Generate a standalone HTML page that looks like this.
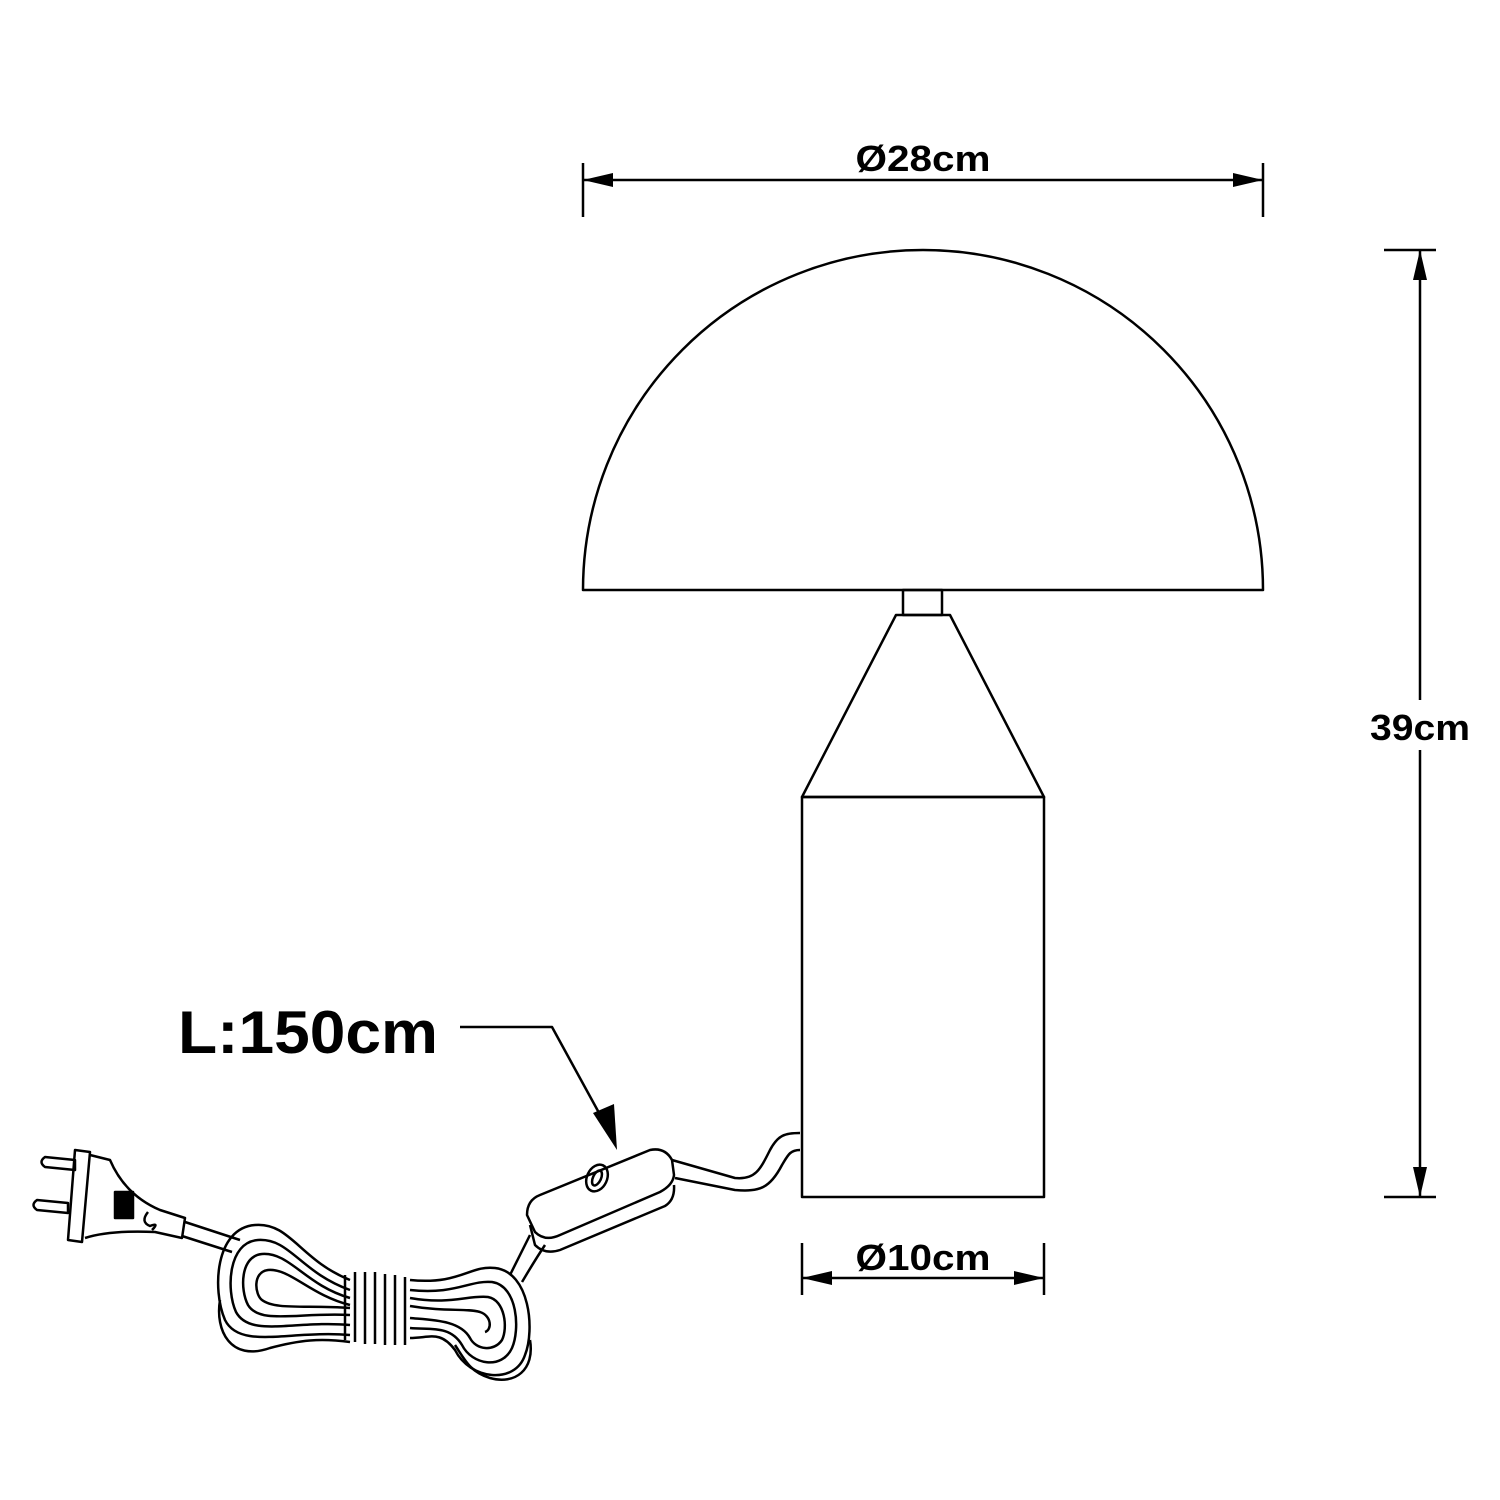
<!DOCTYPE html>
<html><head><style>
html,body{margin:0;padding:0;background:#fff;}
svg{display:block}
text{font-family:"Liberation Sans",sans-serif;font-weight:bold;fill:#000}
</style></head><body>
<svg width="1500" height="1500" viewBox="0 0 1500 1500" xmlns="http://www.w3.org/2000/svg">
<g stroke="#000" stroke-width="2.5" fill="none" stroke-linejoin="round">
<!-- top dimension -->
<line x1="583" y1="163" x2="583" y2="217"/>
<line x1="1263" y1="163" x2="1263" y2="217"/>
<line x1="583" y1="180" x2="1263" y2="180"/>
<!-- dome -->
<path d="M583,590 A340,340 0 0 1 1263,590 Z"/>
<rect x="903" y="590" width="39" height="25"/>
<path d="M896,615 L950,615 L1044,797 L802,797 Z"/>
<rect x="802" y="797" width="242" height="400"/>
<!-- right dim -->
<line x1="1384" y1="250" x2="1436" y2="250"/>
<line x1="1384" y1="1197" x2="1436" y2="1197"/>
<line x1="1420" y1="250" x2="1420" y2="1197"/>
<!-- bottom dim -->
<line x1="802" y1="1243" x2="802" y2="1295"/>
<line x1="1044" y1="1243" x2="1044" y2="1295"/>
<line x1="802" y1="1278" x2="1044" y2="1278"/>
<!-- leader -->
<polyline points="460,1027 552,1027 604,1122"/>
<!-- cord from base to switch -->
<path d="M800,1133 C785,1133 778,1135 770,1150 C760,1170 755,1180 735,1178 L672,1160"/>
<path d="M800,1150 C790,1150 788,1155 782,1165 C770,1188 760,1192 735,1190 L675,1178"/>
<!-- switch -->
<path d="M540,1195 L650,1150 Q665,1147 672,1160 L674,1175 Q673,1185 660,1192 L560,1235 Q545,1242 535,1232 L527,1215 Q527,1200 540,1195 Z"/>
<path d="M530,1225 L535,1245 Q545,1255 560,1250 L665,1206 Q675,1200 674,1185"/>
<ellipse cx="597" cy="1178" rx="10" ry="14" transform="rotate(25 597 1178)"/>
<ellipse cx="597" cy="1178" rx="4" ry="8" transform="rotate(25 597 1178)"/>
<!-- cord to coil -->
<path d="M530,1235 C520,1255 515,1265 510,1275"/>
<path d="M545,1245 C535,1260 528,1272 522,1282"/>
<!-- plug -->
<path d="M45,1157 L75,1160 L75,1170 L45,1167 Q38,1162 45,1157 Z"/>
<path d="M37,1200 L68,1203 L68,1213 L37,1210 Q30,1205 37,1200 Z"/>
<path d="M75,1150 L90,1152 L82,1242 L68,1240 Z"/>
<path d="M90,1155 L110,1160 Q125,1195 160,1210 L185,1218 L182,1238 L155,1232 Q110,1230 85,1238"/>
<rect x="115" y="1192" width="18" height="26" fill="#000"/>
<path d="M148,1212 Q140,1222 150,1226 Q160,1222 152,1230"/>
<path d="M185,1222 L240,1240 M182,1236 L232,1252"/>
<!-- coil -->
<path d="M350,1280 C300,1260 290,1222 255,1225 C215,1228 212,1290 225,1320 C240,1350 290,1330 350,1335"/>
<path d="M350,1290 C300,1272 290,1238 258,1240 C228,1242 226,1290 236,1312 C250,1338 295,1320 350,1325"/>
<path d="M350,1298 C305,1285 290,1252 262,1254 C240,1256 240,1290 248,1305 C260,1325 300,1312 350,1315"/>
<path d="M350,1305 C310,1295 290,1268 268,1270 C252,1272 255,1295 262,1300 C275,1310 305,1305 350,1308"/>
<path d="M220,1300 C215,1330 230,1362 270,1348 C300,1340 320,1338 350,1342"/>
<path d="M410,1280 C460,1285 470,1265 495,1268 C530,1272 535,1330 525,1355 C515,1385 470,1380 455,1350 C440,1330 430,1338 410,1338"/>
<path d="M410,1290 C455,1295 470,1280 492,1282 C518,1286 520,1330 512,1348 C502,1370 472,1365 462,1345 C450,1325 430,1330 410,1328"/>
<path d="M410,1298 C450,1305 468,1295 488,1297 C505,1300 508,1328 502,1340 C494,1352 476,1350 470,1338 C460,1320 432,1320 410,1318"/>
<path d="M410,1306 C445,1312 465,1308 480,1312 C492,1316 492,1330 485,1332"/>
<path d="M530,1340 C535,1370 515,1385 490,1378 C470,1372 465,1360 455,1345"/>
<path d="M345,1275 L345,1340 M355,1272 L355,1342 M365,1272 L365,1344 M375,1272 L375,1344 M385,1274 L385,1345 M395,1275 L395,1345 M405,1277 L405,1345"/>
</g>
<!-- arrowheads -->
<g fill="#000">
<polygon points="583,180 613,173 613,187"/>
<polygon points="1263,180 1233,173 1233,187"/>
<polygon points="1420,250 1413,280 1427,280"/>
<polygon points="1420,1197 1413,1167 1427,1167"/>
<polygon points="802,1278 832,1271 832,1285"/>
<polygon points="1044,1278 1014,1271 1014,1285"/>
<polygon points="617,1150 593,1113 614,1104"/>
</g>
<rect x="1370" y="700" width="100" height="50" fill="#fff"/>
<text x="923" y="171" font-size="36" text-anchor="middle" textLength="135" lengthAdjust="spacingAndGlyphs">Ø28cm</text>
<text x="1420" y="740" font-size="36" text-anchor="middle" textLength="100" lengthAdjust="spacingAndGlyphs">39cm</text>
<text x="923" y="1270" font-size="36" text-anchor="middle" textLength="135" lengthAdjust="spacingAndGlyphs">Ø10cm</text>
<text x="178" y="1053" font-size="60" textLength="260" lengthAdjust="spacingAndGlyphs">L:150cm</text>
</svg>
</body></html>
